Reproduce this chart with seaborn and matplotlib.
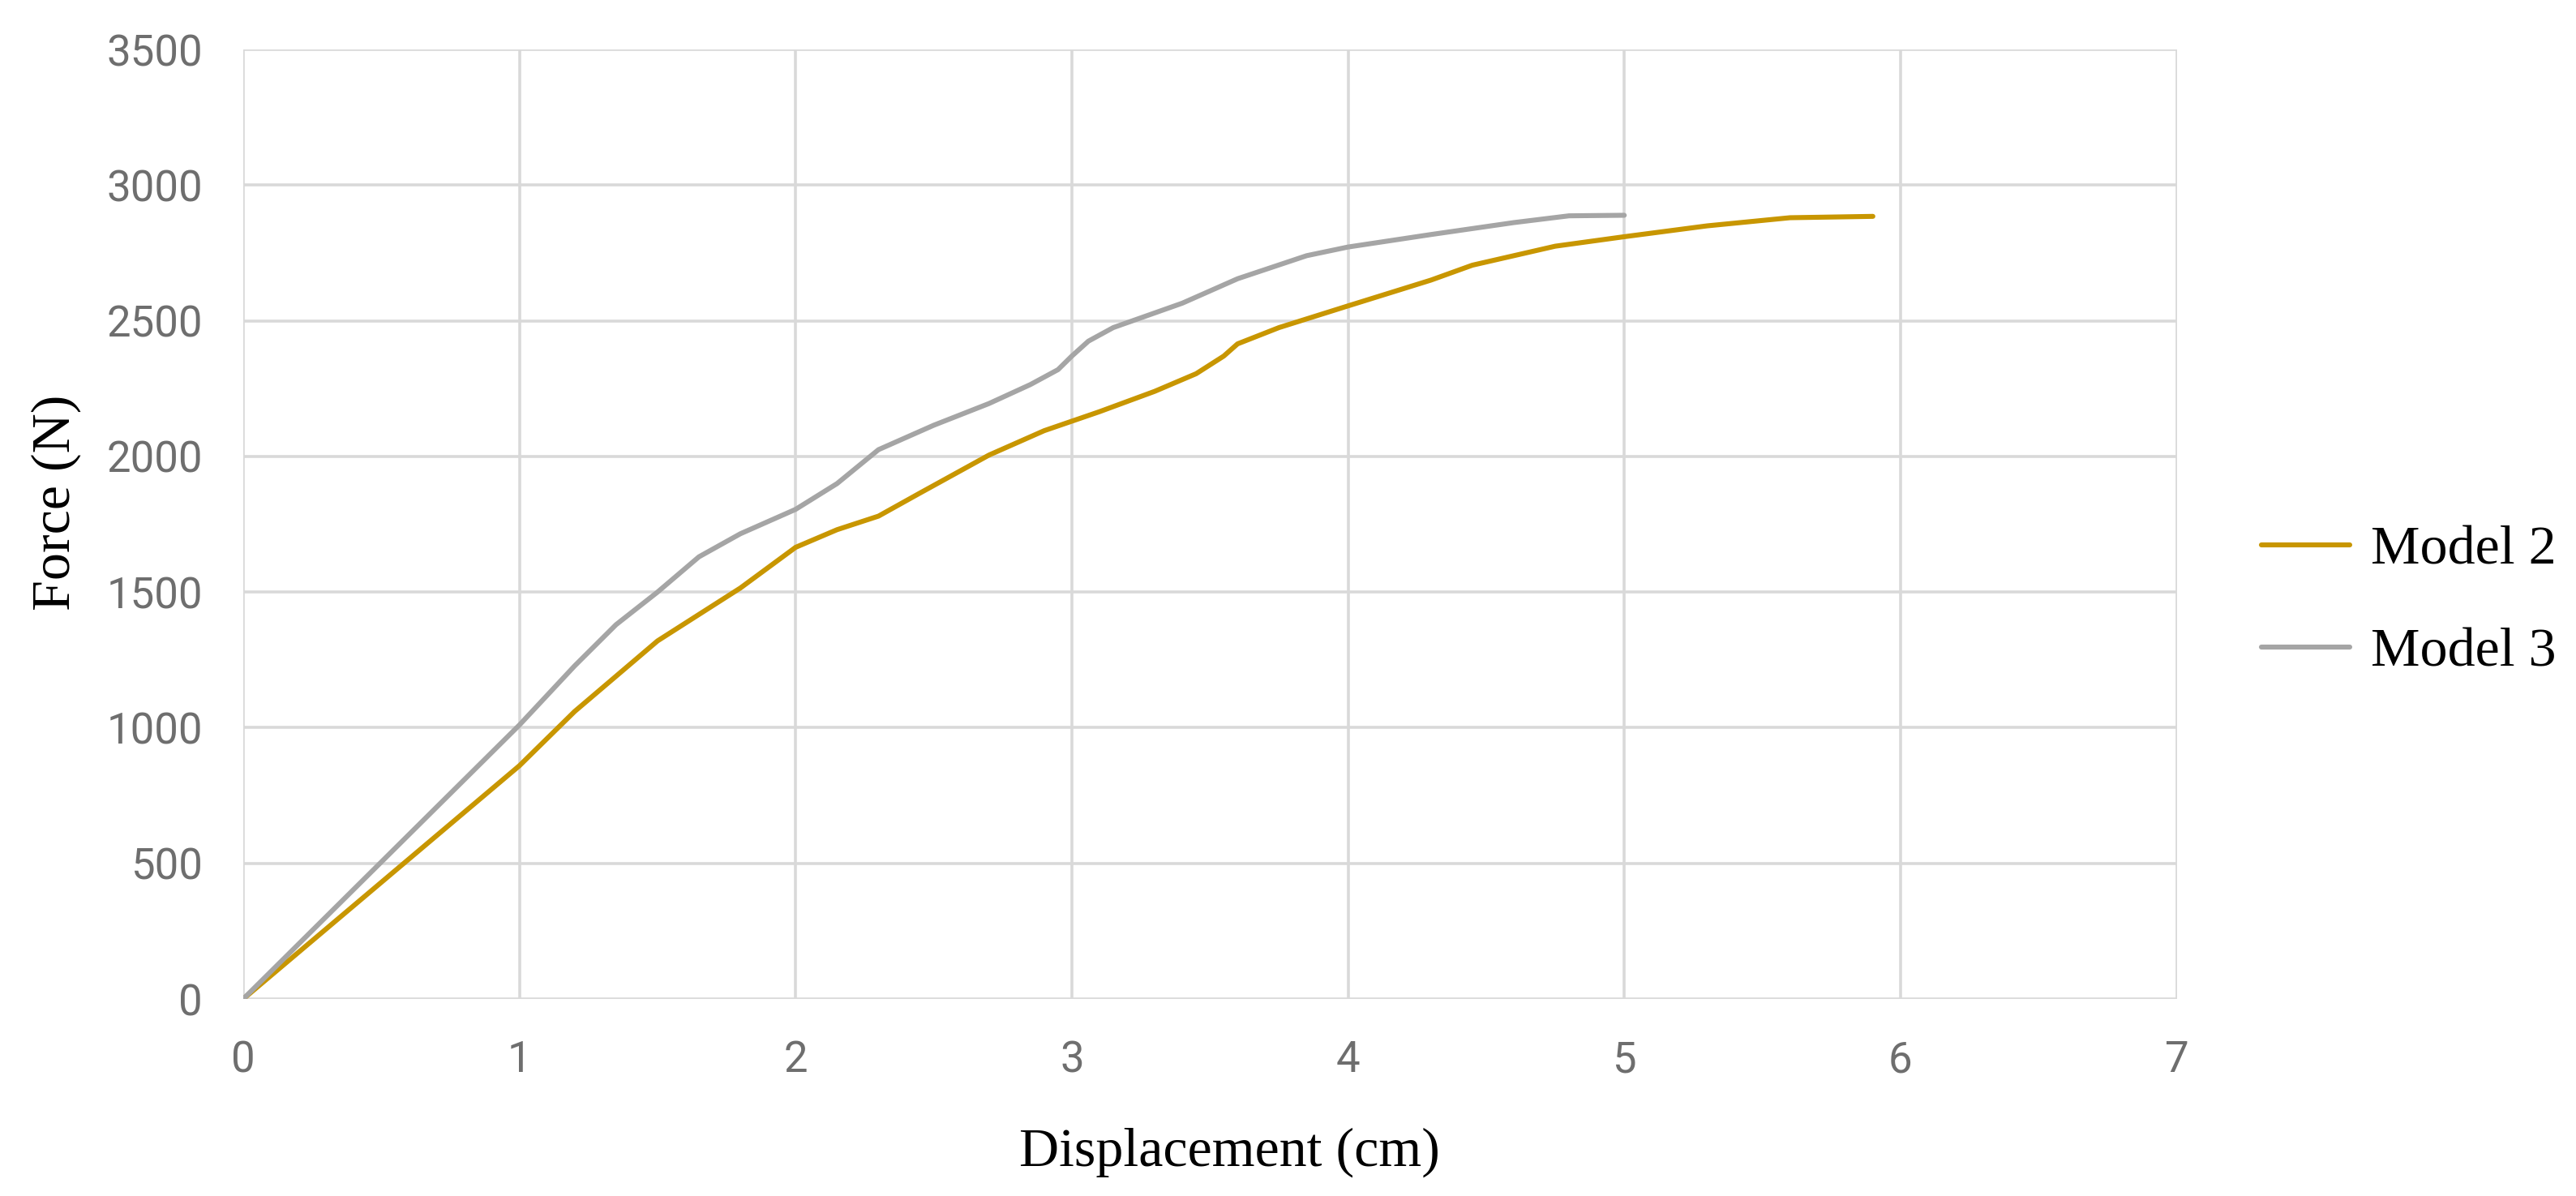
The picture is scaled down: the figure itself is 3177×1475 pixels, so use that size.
import numpy as np
import pandas as pd
import seaborn as sns
import matplotlib.pyplot as plt

# values
disp_m2 = [0, 0.5, 1.0, 1.2, 1.5, 1.8, 2.0, 2.15, 2.3, 2.45, 2.7, 2.9, 3.1, 3.3,
           3.45, 3.55, 3.6, 3.75, 4.0, 4.3, 4.45, 4.75, 5.0, 5.3, 5.6, 5.9]
force_m2 = [0, 430, 860, 1060, 1320, 1515, 1665, 1730, 1780, 1865, 2005, 2095, 2165, 2240,
            2305, 2370, 2415, 2475, 2555, 2650, 2705, 2775, 2810, 2850, 2880, 2885]

disp_m3 = [0, 0.5, 1.0, 1.2, 1.35, 1.5, 1.65, 1.8, 2.0, 2.15, 2.3, 2.5, 2.7, 2.85,
           2.95, 3.0, 3.06, 3.15, 3.4, 3.6, 3.85, 4.0, 4.3, 4.6, 4.8, 5.0]
force_m3 = [0, 505, 1010, 1228, 1380, 1500, 1630, 1715, 1805, 1900, 2025, 2115, 2195, 2265,
            2320, 2370, 2425, 2475, 2565, 2655, 2740, 2772, 2818, 2862, 2887, 2889]

x_ticks = [0, 1, 2, 3, 4, 5, 6, 7]
y_ticks = [0, 500, 1000, 1500, 2000, 2500, 3000, 3500]
x_tick_labels = [str(v) for v in x_ticks]
y_tick_labels = [str(v) for v in y_ticks]

sns.set_theme(style="white")
plt.rcParams['font.family'] = ['Liberation Serif', 'DejaVu Serif']
tick_font = ['Roboto', 'DejaVu Sans']

fig, ax = plt.subplots(figsize=(15.885, 7.375), dpi=200)
fig.subplots_adjust(left=0.0944, right=0.845, top=0.9586, bottom=0.1647)

sns.lineplot(x=disp_m2, y=force_m2, color='#C89600', linewidth=2.2, label='Model 2',
             sort=False, estimator=None, ax=ax)
sns.lineplot(x=disp_m3, y=force_m3, color='#A5A5A5', linewidth=2.2, label='Model 3',
             sort=False, estimator=None, ax=ax)

ax.set_xlim(0, 7)
ax.set_ylim(0, 3500)
ax.set_xticks(x_ticks, x_tick_labels, fontfamily=tick_font)
ax.set_yticks(y_ticks, y_tick_labels, fontfamily=tick_font)
ax.grid(True, color='#d9d9d9', linewidth=1.3)
ax.set_axisbelow(True)
for s in ax.spines.values():
    s.set_visible(False)
ax.tick_params(length=0, pad=18, labelsize=19, labelcolor='#6e6e6e')

ax.set_xlabel('Displacement (cm)', fontsize=24.5, color='black')
ax.set_ylabel('Force (N)', fontsize=24.5, color='black')
ax.xaxis.set_label_coords(0.51, -0.135)
ax.yaxis.set_label_coords(-0.084, 0.523)

ax.legend(loc='center left', bbox_to_anchor=(0.878, 0.497), bbox_transform=fig.transFigure,
          frameon=False, fontsize=24.5, handlelength=1.6, handletextpad=0.38,
          labelspacing=0.95, borderpad=0, borderaxespad=0, labelcolor='black')

fig.savefig('out.png', dpi=200)
